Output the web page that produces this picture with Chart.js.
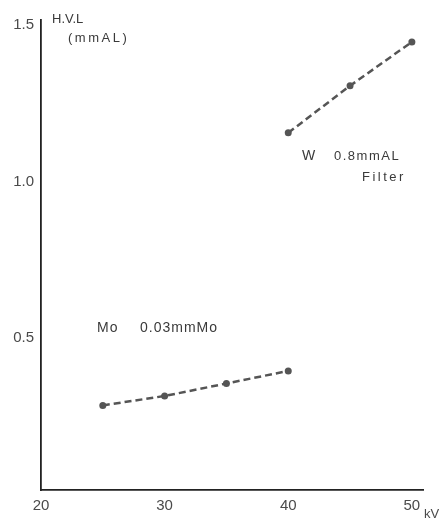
<!DOCTYPE html>
<html>
<head>
<meta charset="utf-8">
<script src="https://cdn.jsdelivr.net/npm/chart.js@4/dist/chart.umd.min.js"></script>
<style>
  html, body { margin: 0; padding: 0; background: #fff; }
  #wrap { width: 445px; height: 522px; position: relative; }
</style>
</head>
<body>
<div id="wrap"><canvas id="c" width="445" height="522"></canvas></div>
<script>
// Tube voltage (kV) and half-value layer (mm Al)
const moKv = [25, 30, 35, 40];
const moHvl = [0.27, 0.30, 0.34, 0.38];
const wKv = [40, 45, 50];
const wHvl = [1.14, 1.29, 1.43];

const xTicks = [20, 30, 40, 50];
const yTicks = [0.5, 1.0, 1.5];

const ink = '#4a4a4a';
const textInk = '#3a3a3a';
const tickFont = { family: 'Liberation Sans, Arial, sans-serif', size: 15 };

function pts(xs, ys) { return xs.map((x, i) => ({ x, y: ys[i] })); }

// Free-standing captions: axis titles and series notes
const notes = {
  id: 'notes',
  afterDraw(chart) {
    const { ctx } = chart;
    ctx.save();
    ctx.fillStyle = textInk;
    ctx.textBaseline = 'middle';
    ctx.textAlign = 'left';
    const narrow = 'Liberation Sans Narrow, Arial Narrow, Arial, sans-serif';

    ctx.font = '13px Liberation Sans, Arial, sans-serif';
    ctx.fillText('H.V.L', 52, 19);
    ctx.font = '13px ' + narrow;
    ctx.letterSpacing = '2.5px';
    ctx.fillText('(mmAL)', 68, 38);

    ctx.font = '14px Liberation Sans, Arial, sans-serif';
    ctx.letterSpacing = '0px';
    ctx.fillText('W', 302, 156);
    ctx.font = '13px ' + narrow;
    ctx.letterSpacing = '1.5px';
    ctx.fillText('0.8mmAL', 334, 156);
    ctx.letterSpacing = '2.5px';
    ctx.fillText('Filter', 362, 177);

    ctx.letterSpacing = '1px';
    ctx.font = '14px Liberation Sans, Arial, sans-serif';
    ctx.fillText('Mo', 97, 328);
    ctx.font = '14px ' + narrow;
    ctx.fillText('0.03mmMo', 140, 328);
    ctx.letterSpacing = '0px';

    ctx.font = '13px Liberation Sans, Arial, sans-serif';
    ctx.fillStyle = ink;
    ctx.fillText('kV', 424, 514);
    ctx.restore();
  }
};

const lineStyle = {
  borderColor: '#555',
  backgroundColor: '#555',
  borderWidth: 2.5,
  borderDash: [7, 4],
  pointRadius: 3.5,
  pointBorderWidth: 0,
  pointBackgroundColor: '#555',
  showLine: true,
  tension: 0
};

new Chart(document.getElementById('c'), {
  type: 'scatter',
  data: {
    datasets: [
      Object.assign({ label: 'Mo 0.03mmMo', data: pts(moKv, moHvl) }, lineStyle),
      Object.assign({ label: 'W 0.8mmAL Filter', data: pts(wKv, wHvl) }, lineStyle)
    ]
  },
  options: {
    responsive: false,
    animation: false,
    layout: { padding: { top: 20, right: 22, left: 0, bottom: 0 } },
    plugins: { legend: { display: false }, tooltip: { enabled: false } },
    scales: {
      x: {
        type: 'linear',
        min: 20,
        max: 50.9,
        afterBuildTicks(s) { s.ticks = xTicks.map(v => ({ value: v })); },
        afterFit(s) { s.height = 32; },
        grid: { display: false, drawTicks: false },
        border: { display: true, color: '#222', width: 1.8 },
        ticks: { color: ink, font: tickFont, padding: 7, maxRotation: 0 }
      },
      y: {
        type: 'linear',
        min: 0,
        max: 1.5,
        afterBuildTicks(s) { s.ticks = yTicks.map(v => ({ value: v })); },
        afterFit(s) { s.width = 41; },
        grid: { display: false, drawTicks: false },
        border: { display: true, color: '#222', width: 1.8 },
        ticks: { color: ink, font: tickFont, padding: 7, labelOffset: 5, callback: v => v.toFixed(1) }
      }
    }
  },
  plugins: [notes]
});
</script>
</body>
</html>
